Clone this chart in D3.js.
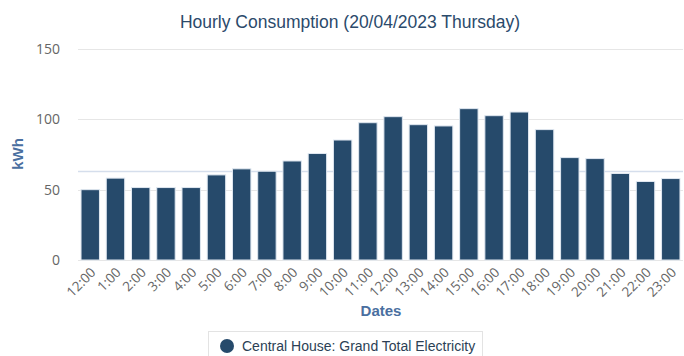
<!DOCTYPE html>
<html>
<head>
<meta charset="utf-8">
<script src="https://cdn.jsdelivr.net/npm/d3@7"></script>
<style>
  body { margin: 0; background: #fff; }
  svg { display: block; }
</style>
</head>
<body>
<div id="chart"></div>
<script>
// data
const hours = ["12:00", "1:00", "2:00", "3:00", "4:00", "5:00", "6:00", "7:00", "8:00", "9:00", "10:00", "11:00",
               "12:00", "13:00", "14:00", "15:00", "16:00", "17:00", "18:00", "19:00", "20:00", "21:00", "22:00", "23:00"];
const kwh = [50, 58.2, 51.5, 51.5, 51.5, 60.5, 64.8, 63.1, 70.4, 75.7, 85.3, 97.6,
             101.9, 96.2, 95.3, 107.6, 102.6, 105.2, 92.7, 72.8, 72.1, 61.5, 55.8, 57.9];
const yTicks = [0, 50, 100, 150];
const refLine = 63;
const seriesName = "Central House: Grand Total Electricity";

const width = 684, height = 356;
const margin = {top: 49, right: 1, bottom: 96, left: 78};
const barColor = "#264a6b";

const svg = d3.select("#chart")
  .append("svg")
    .attr("width", width)
    .attr("height", height)
    .style("font-family", "'Liberation Sans', Arial, sans-serif");

// x uses index so the two "12:00" labels stay separate
const x = d3.scaleBand()
  .domain(d3.range(hours.length))
  .range([margin.left, width - margin.right])
  .paddingInner(0.27)
  .paddingOuter(0.12);

const y = d3.scaleLinear()
  .domain([0, 150])
  .range([height - margin.bottom, margin.top]);

// grid
svg.append("g")
  .selectAll("line")
  .data(yTicks)
  .enter()
  .append("line")
    .attr("x1", margin.left)
    .attr("x2", width - margin.right)
    .attr("y1", d => Math.round(y(d)) + 0.5)
    .attr("y2", d => Math.round(y(d)) + 0.5)
    .attr("stroke", "#e6e6e6")
    .attr("stroke-width", 1);

svg.append("line")
  .attr("x1", margin.left)
  .attr("x2", width - margin.right)
  .attr("y1", Math.round(y(refLine)) + 0.5)
  .attr("y2", Math.round(y(refLine)) + 0.5)
  .attr("stroke", "#d5deec")
  .attr("stroke-width", 1.5);

// y labels
svg.append("g")
  .selectAll("text")
  .data(yTicks)
  .enter()
  .append("text")
    .attr("x", 60)
    .attr("y", d => y(d))
    .attr("dy", "0.35em")
    .attr("text-anchor", "end")
    .style("font-family", "'Open Sans', sans-serif")
    .style("font-size", "14px")
    .style("fill", "#666")
    .text(d => d);

// bars
svg.append("g")
  .selectAll("rect")
  .data(kwh)
  .enter()
  .append("rect")
    .attr("x", (d, i) => x(i))
    .attr("y", d => y(d))
    .attr("width", x.bandwidth())
    .attr("height", d => y(0) - y(d))
    .attr("fill", barColor)
    .attr("stroke", "#dfe7f0")
    .attr("stroke-width", 1);

// x labels
svg.append("g")
  .selectAll("text")
  .data(hours)
  .enter()
  .append("text")
    .attr("transform", (d, i) => `translate(${x(i) + x.bandwidth() / 2 + 3}, ${y(0) + 10}) rotate(-45)`)
    .attr("text-anchor", "end")
    .attr("dy", "0.35em")
    .style("font-family", "'Open Sans', sans-serif")
    .style("font-size", "13.5px")
    .style("fill", "#666")
    .text(d => d);

// titles
svg.append("text")
  .attr("x", 350)
  .attr("y", 28)
  .attr("text-anchor", "middle")
  .style("font-size", "17.5px")
  .style("fill", "#2b4a6b")
  .text("Hourly Consumption (20/04/2023 Thursday)");

svg.append("text")
  .attr("transform", "translate(23, 154) rotate(-90)")
  .attr("text-anchor", "middle")
  .style("font-size", "15px")
  .style("font-weight", "bold")
  .style("fill", "#4a6fa0")
  .text("kWh");

svg.append("text")
  .attr("x", 381)
  .attr("y", 316)
  .attr("text-anchor", "middle")
  .style("font-size", "15px")
  .style("font-weight", "bold")
  .style("fill", "#4a6fa0")
  .text("Dates");

// legend
const legend = svg.append("g");
legend.append("rect")
  .attr("x", 208.5)
  .attr("y", 331.5)
  .attr("width", 274)
  .attr("height", 40)
  .attr("fill", "#fff")
  .attr("stroke", "#e3e3e3");
legend.append("circle")
  .attr("cx", 227)
  .attr("cy", 346)
  .attr("r", 7)
  .attr("fill", barColor);
legend.append("text")
  .attr("x", 242)
  .attr("y", 351)
  .style("font-size", "14px")
  .style("fill", "#2b3f55")
  .text(seriesName);
</script>
</body>
</html>
